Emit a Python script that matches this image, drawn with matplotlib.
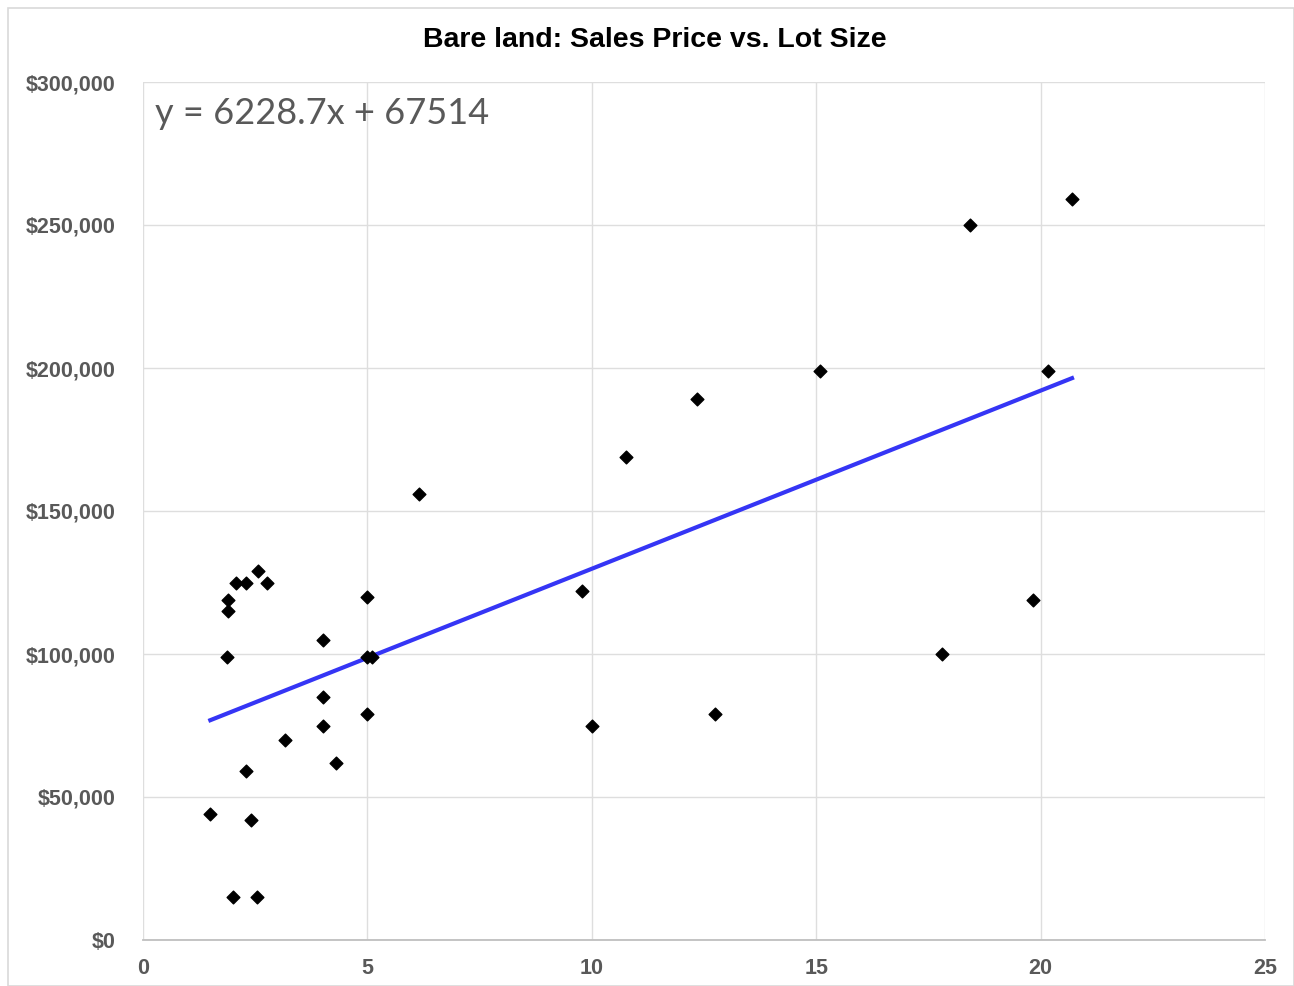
import matplotlib
matplotlib.use('Agg')
import matplotlib.pyplot as plt
from matplotlib.patches import Rectangle
from matplotlib.ticker import FuncFormatter
import numpy as np

# Lot size (acres) and sale price
lot_size = [1.5, 2.0, 2.55, 2.4, 2.3, 1.88, 1.9, 1.9, 2.07, 2.3, 2.56, 2.76,
            3.16, 4.0, 4.0, 4.0, 4.3, 5.0, 5.0, 5.1, 5.0, 6.15, 9.78, 10.0,
            10.76, 12.35, 12.75, 15.08, 17.8, 18.43, 19.83, 20.16, 20.7]
price = [44000, 15000, 15000, 42000, 59000, 99000, 115000, 119000, 125000,
         125000, 129000, 125000, 70000, 105000, 85000, 75000, 62000, 120000,
         99000, 99000, 79000, 156000, 122000, 75000, 169000, 189000, 79000,
         199000, 100000, 250000, 119000, 199000, 259000]

# trend line as printed on the chart
slope = 6228.7
intercept = 67514

title = 'Bare land: Sales Price vs. Lot Size'
x_ticks = [0, 5, 10, 15, 20, 25]
y_ticks = [0, 50000, 100000, 150000, 200000, 250000, 300000]

fig = plt.figure(figsize=(12.94, 9.86), dpi=100)
ax = fig.add_axes([143 / 1294, 1 - 940 / 986, (1265 - 143) / 1294, (940 - 82) / 986])

# chart border
fig.patches.append(Rectangle((8 / 1294, 0), 1 - 8 / 1294, 1 - 8 / 986,
                             transform=fig.transFigure, fill=False,
                             edgecolor='#d9d9d9', linewidth=1.2))

ax.scatter(lot_size, price, marker='D', s=42, color='black', zorder=3)

xs = np.array([min(lot_size), max(lot_size)])
ax.plot(xs, slope * xs + intercept, color='#3535f5', linewidth=3, zorder=2)

ax.set_xlim(0, 25)
ax.set_ylim(0, 300000)
ax.set_xticks(x_ticks)
ax.set_yticks(y_ticks)
ax.yaxis.set_major_formatter(FuncFormatter(lambda v, p: f'${v:,.0f}'))
ax.grid(True, color='#dedede', linewidth=1.0)
ax.set_axisbelow(True)

for side in ['top', 'right', 'left']:
    ax.spines[side].set_visible(False)
ax.spines['bottom'].set_color('#bfbfbf')
ax.spines['bottom'].set_linewidth(1.3)
ax.tick_params(length=0, colors='#595959')
ax.tick_params(axis='y', pad=20)
ax.tick_params(axis='x', pad=13)
for lbl in ax.get_xticklabels() + ax.get_yticklabels():
    lbl.set_fontfamily('Liberation Sans')
    lbl.set_fontweight('bold')
    lbl.set_fontsize(15.5)

fig.text(655 / 1294, 1 - 40 / 986, title, ha='center', va='center',
         fontsize=20.5, fontweight='bold', family='Liberation Sans', color='black')

ax.text(155 / 1294, 1 - 114 / 986, f'y = {slope}x + {intercept}',
        transform=fig.transFigure, ha='left', va='center',
        fontsize=26, family='Lato', color='#595959')

plt.savefig('out.png', dpi=100)
